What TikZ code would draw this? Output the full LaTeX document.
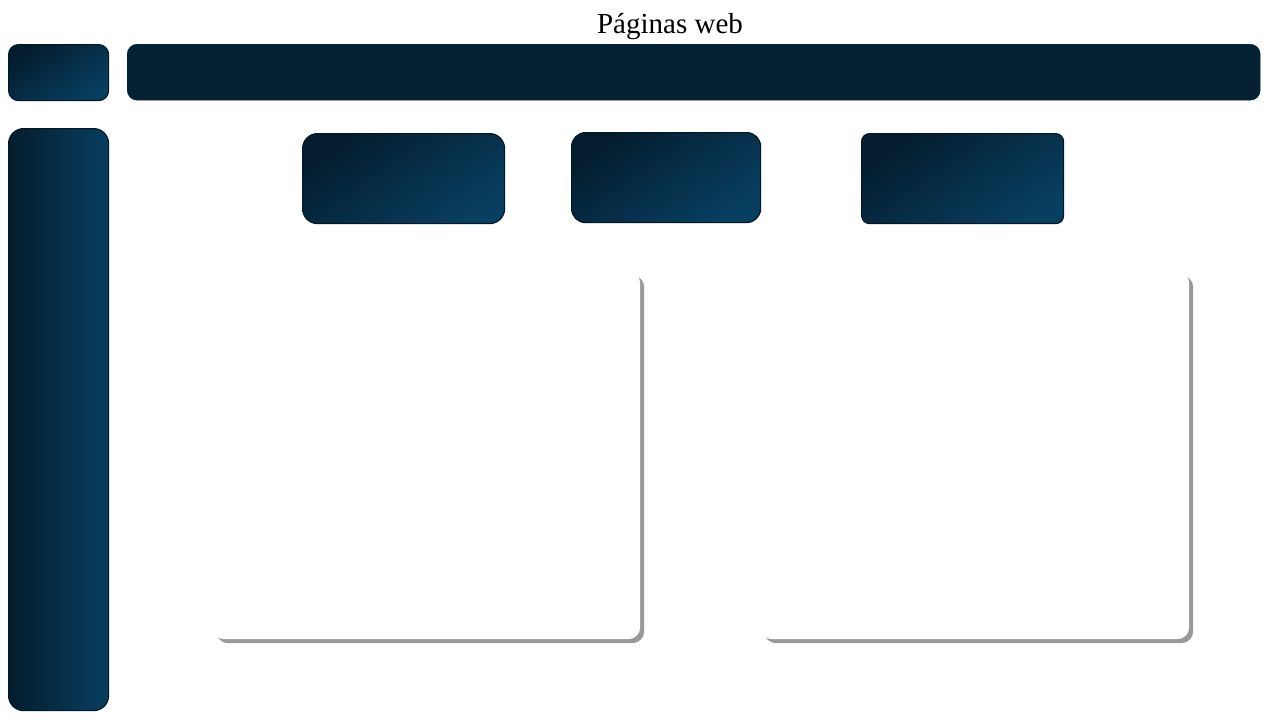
\documentclass[tikz,border=0pt]{standalone}
\usepackage{fontspec}
\setmainfont{Liberation Serif}
\usetikzlibrary{shadows}
\definecolor{navydark}{HTML}{041D2E}
\definecolor{navylight}{HTML}{083E60}
\definecolor{navybar}{HTML}{042033}
\definecolor{navyedge}{HTML}{021824}
\begin{document}
\begin{tikzpicture}[x=1pt,y=-1pt,
  tile/.style={draw=navyedge, line width=1.2pt, rounded corners=10pt, inner sep=0pt, anchor=north west,
    top color=navydark, bottom color=navylight, shading angle=35},
  sidebar/.style={draw=navyedge, line width=1.2pt, rounded corners=15pt, inner sep=0pt, anchor=north west,
    left color=navydark, right color=navylight},
  headerbar/.style={fill=navybar, draw=navybar, rounded corners=10pt, inner sep=0pt, anchor=north west},
  panel/.style={fill=white, rounded corners=12pt, inner sep=0pt, anchor=north west,
    drop shadow={shadow xshift=4pt, shadow yshift=-4pt, fill=black, opacity=0.4}},
  heading/.style={font=\fontsize{29}{32}\selectfont, text=black}
]
\useasboundingbox (0,0) rectangle (1280,720);
\fill[white] (0,0) rectangle (1280,720);

% title
\node[heading] (title) at (670,27) {Páginas web};

% top row
\node[tile, minimum width=100pt, minimum height=56pt] (logo) at (8,44) {};
\node[headerbar, minimum width=1133pt, minimum height=56pt] (bar) at (127,44) {};

% left sidebar
\node[sidebar, minimum width=100pt, minimum height=582pt] (side) at (8,128) {};

% buttons
\node[tile, rounded corners=15pt, minimum width=202pt, minimum height=90pt] (btnA) at (302,133) {};
\node[tile, rounded corners=14pt, minimum width=189pt, minimum height=90pt] (btnB) at (571,132) {};
\node[tile, rounded corners=8pt, minimum width=202pt, minimum height=90pt] (btnC) at (861,133) {};

% content panels
\node[panel, minimum width=428pt, minimum height=368pt] (panelA) at (212,271) {};
\node[panel, minimum width=429pt, minimum height=368pt] (panelB) at (760,271) {};
\end{tikzpicture}
\end{document}
